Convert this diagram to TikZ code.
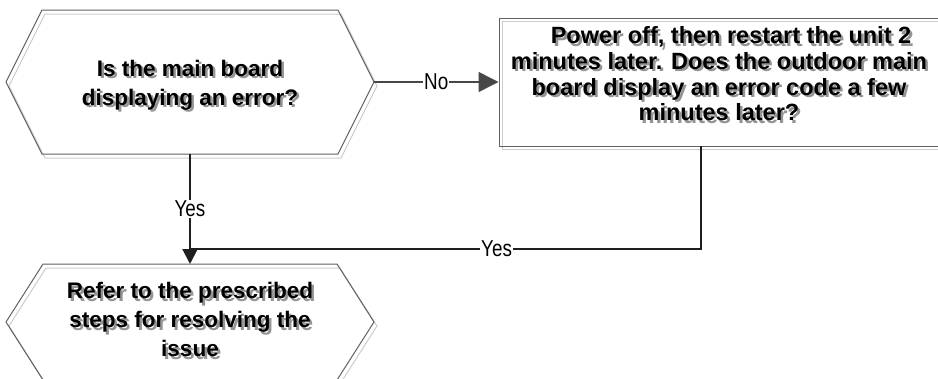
\documentclass[tikz,border=0pt]{standalone}
\usepackage{fontspec}
\setmainfont{Liberation Sans}
\newfontfamily\narrowfont[FakeStretch=0.82]{Liberation Sans}
\usetikzlibrary{arrows.meta,calc}
\newcommand\hexagonpath[5]{(#1-#3-#5,#2) -- (#1-#3,#2-#4) -- (#1+#3,#2-#4) -- (#1+#3+#5,#2) -- (#1+#3,#2+#4) -- (#1-#3,#2+#4) -- cycle}
\newcommand\shline[1]{\makebox[0pt][l]{\hspace{2.5pt}\raisebox{-2.5pt}{\color{black!42}#1}}#1}
\tikzset{
  outline/.style={draw=black!62, line width=1pt},
  outshadow/.style={draw=black!20, line width=1pt},
  hextext/.style={align=center, font=\fontsize{22.5}{29}\selectfont\bfseries, inner sep=0pt},
  recttext/.style={align=center, font=\fontsize{23.5}{25.7}\selectfont\bfseries, inner sep=0pt},
  conn/.style={draw=black!88, line width=2pt},
  noconn/.style={draw=black!72, line width=1.5pt},
  lbl/.style={font=\narrowfont\fontsize{23}{23}\selectfont, fill=white, inner sep=1pt},
}
\begin{document}
\begin{tikzpicture}[x=1pt,y=-1pt]
\useasboundingbox (0,0) rectangle (938,378);
% top hexagon
\draw[outshadow] \hexagonpath{193}{86}{148}{72}{36};
\draw[outline] \hexagonpath{190}{82}{148}{72}{36};
\node[hextext] (q1) at (190,86) {\shline{Is the main board}\\\shline{displaying an error?}};
\coordinate (q1east) at (374,82);
\coordinate (q1south) at (190,154);
% bottom hexagon
\draw[outshadow] \hexagonpath{193}{326}{147}{58}{37};
\draw[outline] \hexagonpath{190}{322}{147}{58}{37};
\node[hextext] (a1) at (190,321) {\shline{Refer to the prescribed}\\\shline{steps for resolving the}\\\shline{issue}};
\coordinate (a1north) at (190,264);
% rectangle
\draw[outshadow] (502,21) rectangle (943,149);
\node[outline, minimum width=441pt, minimum height=128pt, inner sep=0pt] (r1) at (719.5,82) {};
\node[recttext] (r1t) at (719,75) {\hspace*{24pt}\shline{Power off, then restart the unit 2}\\\shline{minutes later. Does the outdoor main}\\\shline{board display an error code a few}\\\shline{minutes later?}};
\coordinate (r1out) at (701,146);
\coordinate (join) at (190,249);
% connectors
\draw[noconn, -{Triangle[width=20pt,length=20pt]}] (q1east) -- node[lbl]{No} (r1.west);
\draw[conn, -{Triangle[width=15pt,length=15pt]}] (q1south) -- node[lbl]{Yes} (a1north);
\draw[conn] (r1out) |- node[lbl, pos=0.70]{Yes} (join);
\end{tikzpicture}
\end{document}
